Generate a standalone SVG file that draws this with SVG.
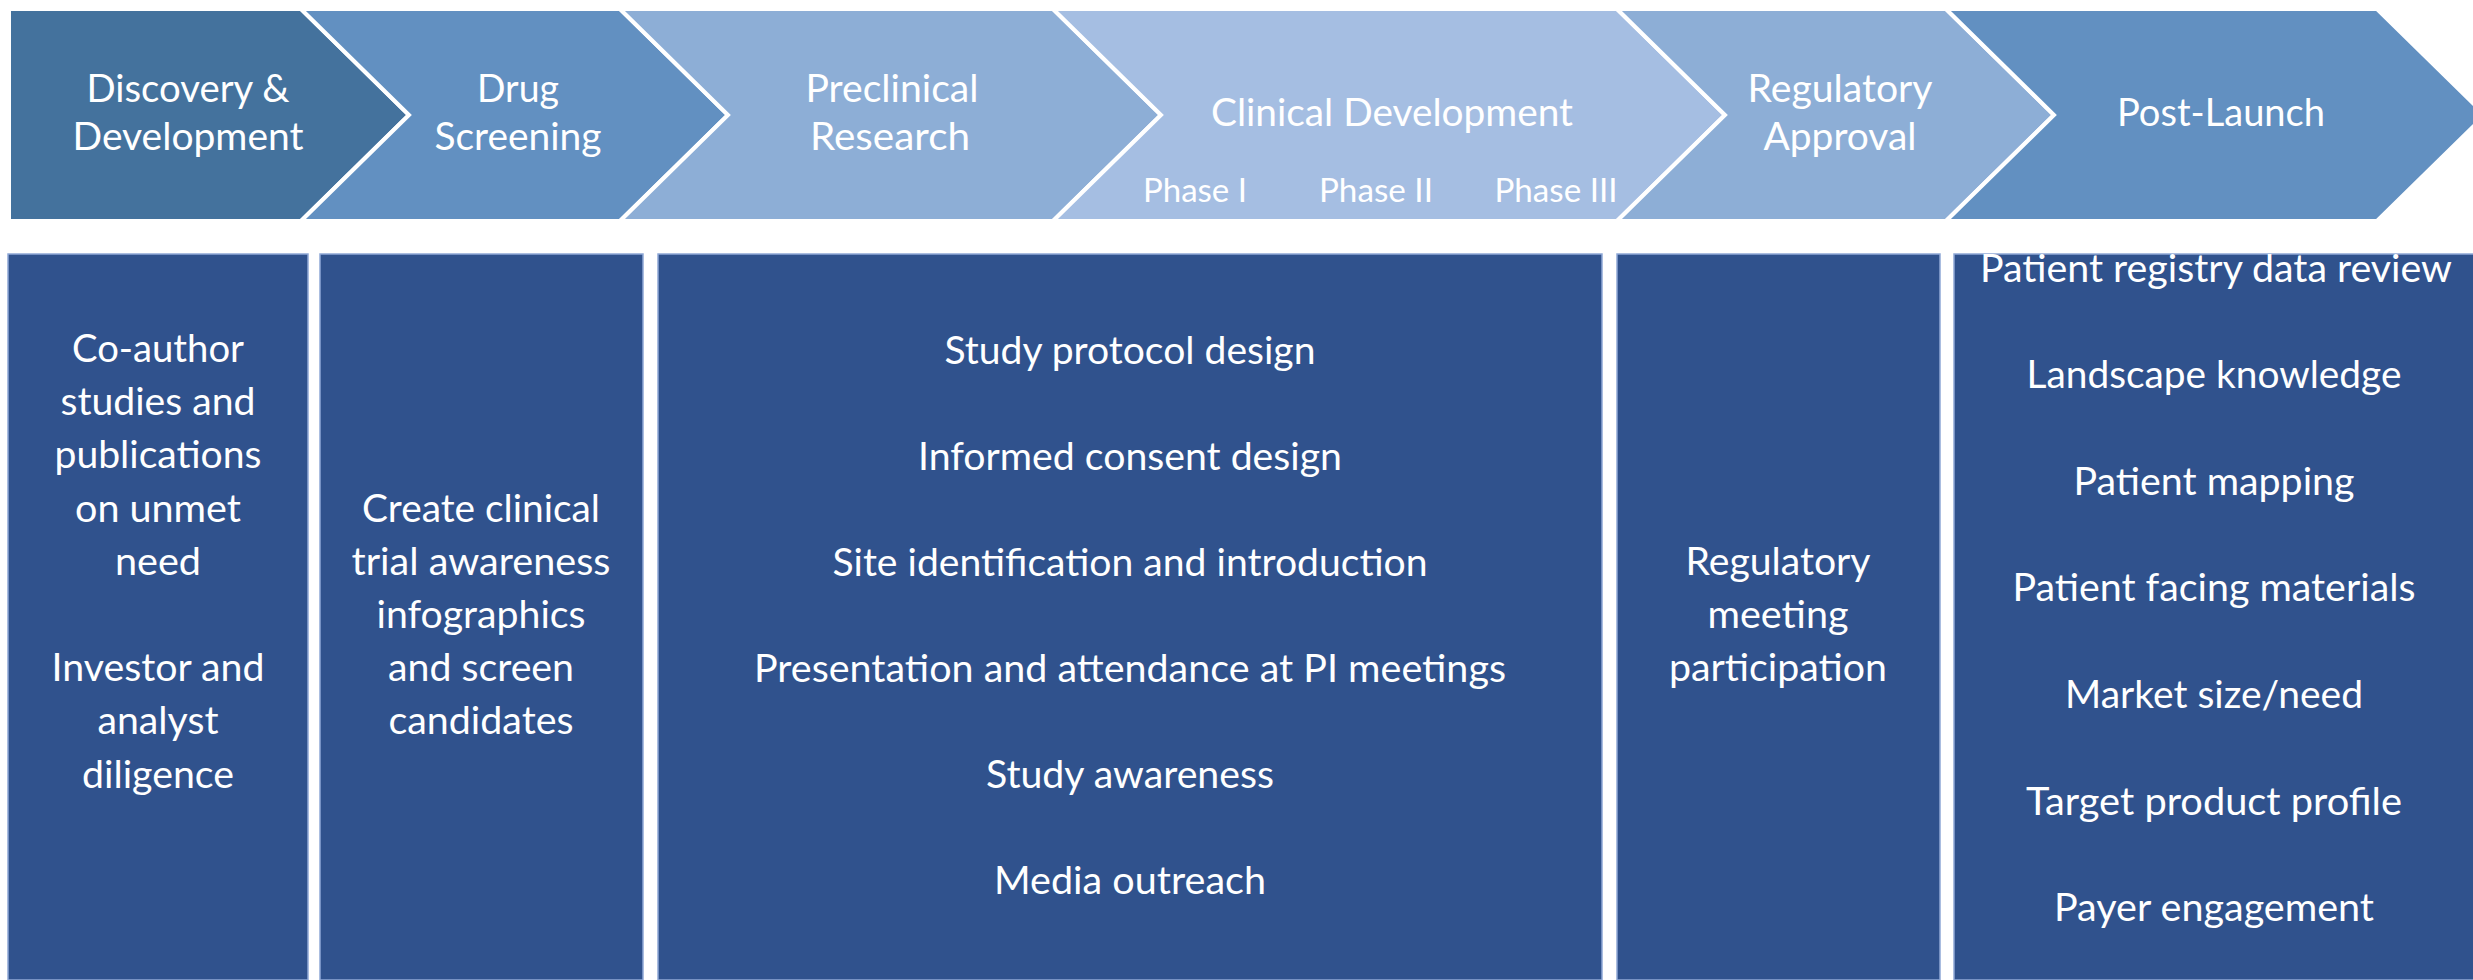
<svg xmlns="http://www.w3.org/2000/svg" width="2473" height="980" viewBox="0 0 2473 980">
<style>
.chev{stroke:#fff;stroke-width:4;stroke-linejoin:miter}
.box{fill:#30528D;stroke:#8FA8D6;stroke-width:1.5}
text{font-family:Lato,"Liberation Sans",sans-serif;fill:#fff;text-anchor:middle}
.hd{font-size:38.5px}
.ph{font-size:33px}
.bd{font-size:38.5px}
</style>
<rect width="2473" height="980" fill="#fff"/>
<g id="stages">
<g id="stage-discovery">
<polygon class="chev" fill="#44729D" points="9,9 301,9 409,115 301,221 9,221"/>
<text class="hd" x="188" y="102" textLength="203" lengthAdjust="spacingAndGlyphs">Discovery &amp;</text>
<text class="hd" x="188" y="150" textLength="231" lengthAdjust="spacingAndGlyphs">Development</text>
</g>
<g id="stage-screening">
<polygon class="chev" fill="#6290C1" points="301,9 620,9 728,115 620,221 301,221 409,115"/>
<text class="hd" x="518" y="102" textLength="82" lengthAdjust="spacingAndGlyphs">Drug</text>
<text class="hd" x="518" y="150" textLength="167" lengthAdjust="spacingAndGlyphs">Screening</text>
</g>
<g id="stage-preclinical">
<polygon class="chev" fill="#8DAED6" points="620,9 1053,9 1161,115 1053,221 620,221 728,115"/>
<text class="hd" x="892" y="102" textLength="173" lengthAdjust="spacingAndGlyphs">Preclinical</text>
<text class="hd" x="890" y="150" textLength="160" lengthAdjust="spacingAndGlyphs">Research</text>
</g>
<g id="stage-clinical">
<polygon class="chev" fill="#A5BEE2" points="1053,9 1617,9 1725,115 1617,221 1053,221 1161,115"/>
<text class="hd" x="1392" y="126" textLength="362" lengthAdjust="spacingAndGlyphs">Clinical Development</text>
<text class="ph" x="1195" y="202" textLength="104" lengthAdjust="spacingAndGlyphs">Phase I</text>
<text class="ph" x="1376" y="202" textLength="114" lengthAdjust="spacingAndGlyphs">Phase II</text>
<text class="ph" x="1556" y="202" textLength="123" lengthAdjust="spacingAndGlyphs">Phase III</text>
</g>
<g id="stage-regulatory">
<polygon class="chev" fill="#8DAED6" points="1617,9 1946,9 2054,115 1946,221 1617,221 1725,115"/>
<text class="hd" x="1840" y="102" textLength="185" lengthAdjust="spacingAndGlyphs">Regulatory</text>
<text class="hd" x="1840" y="150" textLength="153" lengthAdjust="spacingAndGlyphs">Approval</text>
</g>
<g id="stage-postlaunch">
<polygon class="chev" fill="#6290C1" points="1946,9 2377,9 2485,115 2377,221 1946,221 2054,115"/>
<text class="hd" x="2221" y="126" textLength="208" lengthAdjust="spacingAndGlyphs">Post-Launch</text>
</g>
</g>
<g id="connectors"/>
<g id="activities">
<g id="box-discovery">
<rect class="box" x="8" y="254" width="300" height="726"/>
<text class="bd" x="158" y="362" textLength="172" lengthAdjust="spacingAndGlyphs">Co-author</text>
<text class="bd" x="158" y="415" textLength="195" lengthAdjust="spacingAndGlyphs">studies and</text>
<text class="bd" x="158" y="468" textLength="207" lengthAdjust="spacingAndGlyphs">publications</text>
<text class="bd" x="158" y="522" textLength="166" lengthAdjust="spacingAndGlyphs">on unmet</text>
<text class="bd" x="158" y="575" textLength="86" lengthAdjust="spacingAndGlyphs">need</text>
<text class="bd" x="158" y="681" textLength="213" lengthAdjust="spacingAndGlyphs">Investor and</text>
<text class="bd" x="158" y="734" textLength="121" lengthAdjust="spacingAndGlyphs">analyst</text>
<text class="bd" x="158" y="788" textLength="152" lengthAdjust="spacingAndGlyphs">diligence</text>
</g>
<g id="box-screening">
<rect class="box" x="320" y="254" width="323" height="726"/>
<text class="bd" x="481" y="522" textLength="238" lengthAdjust="spacingAndGlyphs">Create clinical</text>
<text class="bd" x="481" y="575" textLength="259" lengthAdjust="spacingAndGlyphs">trial awareness</text>
<text class="bd" x="481" y="628" textLength="209" lengthAdjust="spacingAndGlyphs">infographics</text>
<text class="bd" x="481" y="681" textLength="186" lengthAdjust="spacingAndGlyphs">and screen</text>
<text class="bd" x="481" y="734" textLength="185" lengthAdjust="spacingAndGlyphs">candidates</text>
</g>
<g id="box-clinical">
<rect class="box" x="658" y="254" width="944" height="726"/>
<text class="bd" x="1130" y="364" textLength="371" lengthAdjust="spacingAndGlyphs">Study protocol design</text>
<text class="bd" x="1130" y="470" textLength="424" lengthAdjust="spacingAndGlyphs">Informed consent design</text>
<text class="bd" x="1130" y="576" textLength="595" lengthAdjust="spacingAndGlyphs">Site identification and introduction</text>
<text class="bd" x="1130" y="682" textLength="752" lengthAdjust="spacingAndGlyphs">Presentation and attendance at PI meetings</text>
<text class="bd" x="1130" y="788" textLength="288" lengthAdjust="spacingAndGlyphs">Study awareness</text>
<text class="bd" x="1130" y="894" textLength="272" lengthAdjust="spacingAndGlyphs">Media outreach</text>
</g>
<g id="box-regulatory">
<rect class="box" x="1617" y="254" width="323" height="726"/>
<text class="bd" x="1778" y="575" textLength="185" lengthAdjust="spacingAndGlyphs">Regulatory</text>
<text class="bd" x="1778" y="628" textLength="141" lengthAdjust="spacingAndGlyphs">meeting</text>
<text class="bd" x="1778" y="681" textLength="218" lengthAdjust="spacingAndGlyphs">participation</text>
</g>
<g id="box-postlaunch">
<rect class="box" x="1954" y="254" width="524" height="726"/>
<text class="bd" x="2216" y="282" textLength="472" lengthAdjust="spacingAndGlyphs">Patient registry data review</text>
<text class="bd" x="2214" y="388" textLength="375" lengthAdjust="spacingAndGlyphs">Landscape knowledge</text>
<text class="bd" x="2214" y="495" textLength="281" lengthAdjust="spacingAndGlyphs">Patient mapping</text>
<text class="bd" x="2214" y="601" textLength="403" lengthAdjust="spacingAndGlyphs">Patient facing materials</text>
<text class="bd" x="2214" y="708" textLength="298" lengthAdjust="spacingAndGlyphs">Market size/need</text>
<text class="bd" x="2214" y="815" textLength="376" lengthAdjust="spacingAndGlyphs">Target product profile</text>
<text class="bd" x="2214" y="921" textLength="320" lengthAdjust="spacingAndGlyphs">Payer engagement</text>
</g>
</g>
</svg>
